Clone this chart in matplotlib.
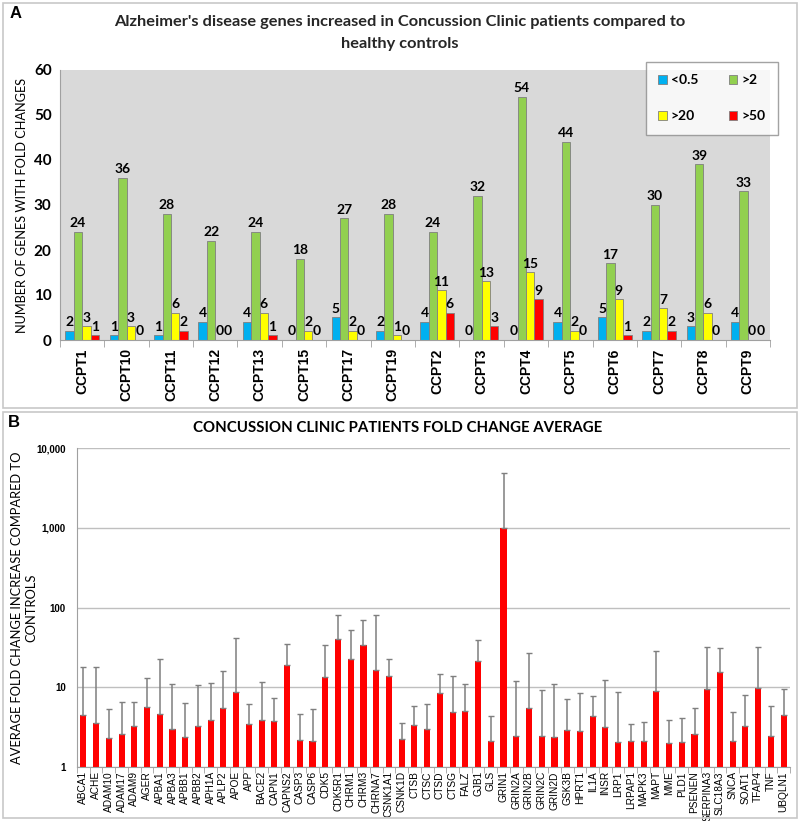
import matplotlib
matplotlib.use("Agg")
import matplotlib.pyplot as plt
import numpy as np
from matplotlib.patches import Rectangle

# ---------------- Panel A data ----------------
patients = ["CCPT1", "CCPT10", "CCPT11", "CCPT12", "CCPT13", "CCPT15", "CCPT17", "CCPT19",
            "CCPT2", "CCPT3", "CCPT4", "CCPT5", "CCPT6", "CCPT7", "CCPT8", "CCPT9"]
lt_05 = [2, 1, 1, 4, 4, 0, 5, 2, 4, 0, 0, 4, 5, 2, 3, 4]
gt_2 = [24, 36, 28, 22, 24, 18, 27, 28, 24, 32, 54, 44, 17, 30, 39, 33]
gt_20 = [3, 3, 6, 0, 6, 2, 2, 1, 11, 13, 15, 2, 9, 7, 6, 0]
gt_50 = [1, 0, 2, 0, 1, 0, 0, 0, 6, 3, 9, 0, 1, 2, 0, 0]
series_names = ["<0.5", ">2", ">20", ">50"]

# ---------------- Panel B data ----------------
genes = ["ABCA1", "ACHE", "ADAM10", "ADAM17", "ADAM9", "AGER", "APBA1", "APBA3", "APBB1",
         "APBB2", "APH1A", "APLP2", "APOE", "APP", "BACE2", "CAPN1", "CAPNS2", "CASP3",
         "CASP6", "CDK5", "CDK5R1", "CHRM1", "CHRM3", "CHRNA7", "CSNK1A1", "CSNK1D",
         "CTSB", "CTSC", "CTSD", "CTSG", "FALZ", "GJB1", "GLS", "GRIN1", "GRIN2A", "GRIN2B",
         "GRIN2C", "GRIN2D", "GSK3B", "HPRT1", "IL1A", "INSR", "LRP1", "LRPAP1", "MAPK3",
         "MAPT", "MME", "PLD1", "PSENEN", "SERPINA3", "SLC18A3", "SNCA", "SOAT1", "TFAP4",
         "TNF", "UBQLN1"]
fold_avg = [4.5, 3.55, 2.33, 2.57, 3.3, 5.6, 4.6, 3.03, 2.38,
            3.3, 3.9, 5.45, 8.7, 3.47, 3.94, 3.76, 18.8, 2.18,
            2.11, 13.6, 40.6, 22.8, 34.0, 16.5, 13.7, 2.24,
            3.35, 3.01, 8.41, 4.92, 5.01, 21.5, 2.11, 1000.0, 2.44, 5.5,
            2.45, 2.38, 2.91, 2.8, 4.33, 3.15, 2.06, 2.12, 2.12,
            8.9, 2.0, 2.06, 2.6, 9.5, 15.6, 2.14, 3.27, 9.7,
            2.45, 4.54]
fold_err_top = [18.2, 17.7, 5.3, 6.5, 6.6, 13.2, 22.9, 10.9, 6.3,
                10.7, 11.3, 15.9, 42.0, 6.2, 11.5, 7.4, 35.0, 4.64,
                5.4, 34.0, 80.0, 52.0, 70.0, 81.7, 22.4, 3.55,
                5.9, 6.19, 14.7, 13.9, 11.0, 39.4, 4.42, 4800.0, 12.1, 27.0,
                9.3, 10.9, 7.2, 8.5, 7.8, 12.2, 8.65, 3.43, 3.67,
                28.6, 3.85, 4.16, 5.5, 31.8, 30.9, 4.86, 8.1, 32.4,
                5.78, 9.4]

W, H = 800, 821
fig = plt.figure(figsize=(W / 100, H / 100), dpi=100)
fig.patch.set_facecolor("white")

TFONT = ["Lato", "DejaVu Sans"]
AFONT = ["Liberation Sans", "DejaVu Sans"]

# panel borders
for (x0, y0, x1, y1) in [(3, 3, 797, 408), (3, 412, 797, 818)]:
    fig.patches.append(Rectangle((x0 / W, 1 - y1 / H), (x1 - x0) / W, (y1 - y0) / H,
                                 transform=fig.transFigure, fill=False,
                                 edgecolor="#c8c8c8", lw=1.2))

fig.text(10 / W, 1 - 14 / H, "A", fontsize=12, fontweight="bold", family=AFONT,
         ha="left", va="center")
fig.text(8 / W, 1 - 422 / H, "B", fontsize=12, fontweight="bold", family=AFONT,
         ha="left", va="center")

# ---------------- Panel A ----------------
axA = fig.add_axes([60 / W, 1 - 340 / H, (770 - 60) / W, (340 - 70) / H])
axA.set_facecolor("#d9d9d9")
x = np.arange(len(patients))
bw = 0.19
colors = ["#00b0f0", "#92d050", "#ffff00", "#ff0000"]
data = [lt_05, gt_2, gt_20, gt_50]
handles = []
for i, (vals, c, name) in enumerate(zip(data, colors, series_names)):
    bars = axA.bar(x + (i - 1.5) * bw, vals, width=bw, color=c, edgecolor="#7f7f7f",
                   linewidth=0.6, label=name, zorder=2)
    handles.append(bars)
    axA.bar_label(bars, labels=[str(v) for v in vals], padding=2, fontsize=10,
                  fontweight="bold", family=TFONT)
axA.set_xlim(-0.5, len(patients) - 0.5)
axA.set_ylim(0, 60)
axA.set_yticks(range(0, 61, 10))
axA.tick_params(axis="y", labelsize=11, length=0, pad=6)
for lab in axA.get_yticklabels():
    lab.set_fontweight("bold")
    lab.set_family(TFONT)
axA.set_xticks(x)
axA.set_xticklabels(patients, rotation=90, fontsize=10, fontweight="bold", family=AFONT)
axA.tick_params(axis="x", length=0, pad=6)
axA.set_xticks(np.arange(-0.5, len(patients), 1), minor=True)
axA.tick_params(axis="x", which="minor", length=5, color="#a0a0a0")
for s in ["top", "right"]:
    axA.spines[s].set_visible(False)
axA.spines["left"].set_color("#a0a0a0")
axA.spines["bottom"].set_color("#a0a0a0")
axA.set_ylabel("NUMBER OF GENES WITH FOLD CHANGES", fontsize=9.2, family=TFONT,
               labelpad=4)
axA.yaxis.set_label_coords(-0.045, 0.5)
fig.text(0.5, 1 - 33 / H,
         "Alzheimer's disease genes increased in Concussion Clinic patients compared to\nhealthy controls",
         ha="center", va="center", fontsize=11.8, fontweight="bold", family=TFONT,
         color="#262626", linespacing=1.8)
order = [0, 2, 1, 3]
leg = axA.legend([handles[k] for k in order], [series_names[k] for k in order],
                 loc="upper right", bbox_to_anchor=(778 / W, 1 - 62 / H),
                 bbox_transform=fig.transFigure, ncol=2, frameon=True, fancybox=False,
                 handlelength=0.6, handleheight=0.6, labelspacing=1.7, columnspacing=2.2,
                 borderpad=0.9, handletextpad=0.3, borderaxespad=0,
                 prop={"family": TFONT, "weight": "bold", "size": 10})
leg.get_frame().set_edgecolor("#8c8c8c")
leg.get_frame().set_facecolor("white")
leg.get_frame().set_linewidth(1.0)
leg.set_zorder(5)

# ---------------- Panel B ----------------
axB = fig.add_axes([77 / W, 1 - 767 / H, (790 - 77) / W, (767 - 448) / H])
xb = np.arange(len(genes))
fv = np.array(fold_avg)
ft = np.array(fold_err_top)
axB.bar(xb, fv, width=0.48, color="#ff0000", edgecolor="#ff0000", linewidth=0, zorder=2)
axB.errorbar(xb, fv, yerr=[np.zeros_like(fv), ft - fv], fmt="none", ecolor="#7f7f7f",
             elinewidth=1.1, capsize=2, capthick=1.0, zorder=3)
axB.set_yscale("log")
axB.set_ylim(1, 10000)
axB.set_yticks([1, 10, 100, 1000, 10000])
axB.set_yticklabels(["1", "10", "100", "1,000", "10,000"], fontsize=7, fontweight="bold",
                    family=AFONT)
axB.yaxis.set_minor_locator(matplotlib.ticker.NullLocator())
axB.tick_params(axis="y", length=0, pad=8)
axB.grid(axis="y", color="#bfbfbf", lw=1.0, zorder=0)
axB.set_axisbelow(True)
axB.set_xlim(-0.5, len(genes) - 0.5)
axB.set_xticks(xb)
axB.set_xticklabels(genes, rotation=90, fontsize=7.3, family=AFONT)
axB.tick_params(axis="x", length=0, pad=3)
axB.set_xticks(np.arange(-0.5, len(genes), 1), minor=True)
axB.tick_params(axis="x", which="minor", length=4, color="#a0a0a0")
for s in ["top", "right"]:
    axB.spines[s].set_visible(False)
axB.spines["left"].set_color("#a0a0a0")
axB.spines["bottom"].set_color("#a0a0a0")
axB.set_ylabel("AVERAGE FOLD CHANGE INCREASE COMPARED TO\nCONTROLS", fontsize=9.3,
               family=TFONT, linespacing=1.25)
axB.yaxis.set_label_coords(-0.056, 0.5)
fig.text(398 / W, 1 - 428 / H, "CONCUSSION CLINIC PATIENTS FOLD CHANGE AVERAGE",
         ha="center", va="center", fontsize=10.8, fontweight="bold", family=TFONT)

fig.savefig("out.png", dpi=100)
